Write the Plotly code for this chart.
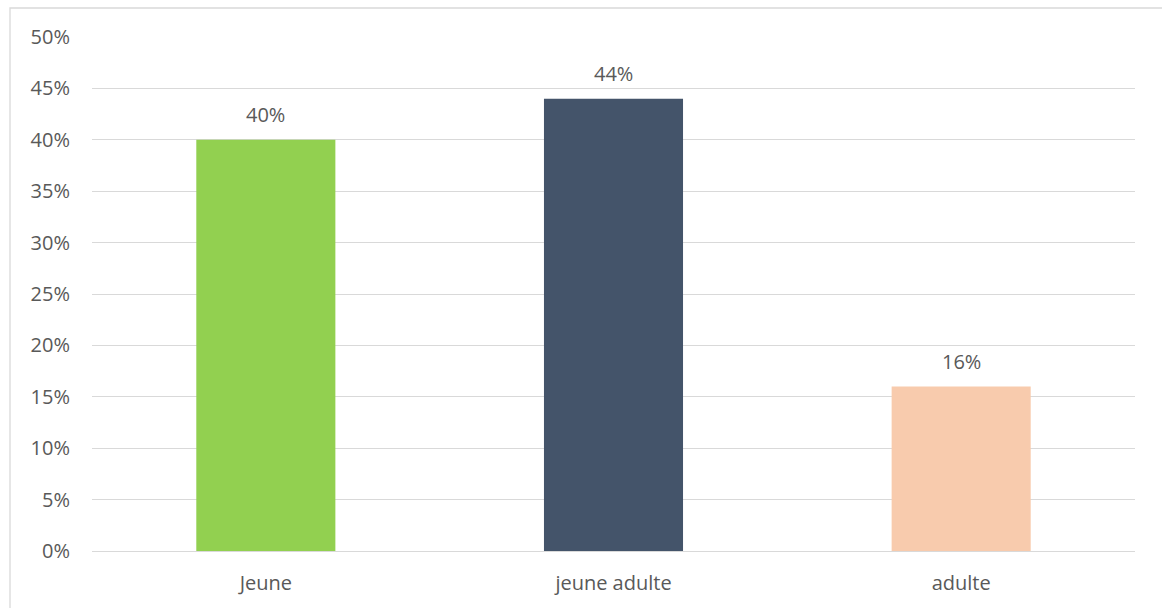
import plotly.graph_objects as go

categories = ["Jeune", "jeune adulte", "adulte"]
values = [0.40, 0.44, 0.16]
colors = ["#92D050", "#44546A", "#F8CBAD"]
labels = ["40%", "44%", "16%"]

FONT = "Open Sans"
TXT = "#595959"
FS = 20

fig = go.Figure()
fig.add_trace(go.Bar(
    x=categories, y=values, marker=dict(color=colors, line=dict(width=0)),
    hoverinfo="skip",
))
for c, v, t in zip(categories, values, labels):
    fig.add_annotation(x=c, y=v, text=t, showarrow=False, yanchor="bottom",
                       yshift=10, font=dict(family=FONT, size=FS, color=TXT))

fig.update_layout(
    width=1162, height=608,
    margin=dict(l=92, r=27, t=37, b=57),
    paper_bgcolor="white", plot_bgcolor="white",
    bargap=0.6, showlegend=False,
    font=dict(family=FONT, size=FS, color=TXT),
    xaxis=dict(showgrid=False, showline=False, zeroline=False, ticks="",
               ticklabelstandoff=18, tickfont=dict(size=FS, color=TXT)),
    yaxis=dict(range=[0, 0.5], dtick=0.05, tickformat=".0%", showgrid=True,
               gridcolor="#D9D9D9", gridwidth=1.3, zeroline=True, zerolinecolor="#D9D9D9",
               zerolinewidth=1.3, showline=False, ticks="", ticklabelstandoff=21,
               tickfont=dict(size=FS, color=TXT)),
    shapes=[dict(type="rect", xref="paper", yref="paper",
                 x0=(10 - 92) / 1043, x1=1.05, y0=-0.2, y1=1 + (37 - 8) / 514,
                 line=dict(color="#D9D9D9", width=1.3), layer="below")],
)
fig.write_html("out.html")
